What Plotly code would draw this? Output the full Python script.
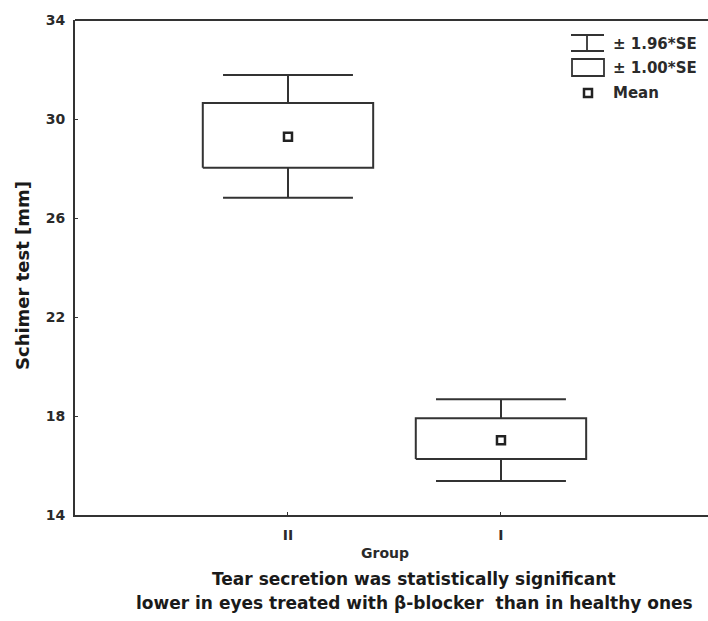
import plotly.graph_objects as go

groups = ["II", "I"]
group_pos = [0, 1]
means = [29.28, 17.02]
box_high = [30.65, 17.91]   # mean + 1.00*SE
box_low = [28.03, 16.26]    # mean - 1.00*SE
whisk_high = [31.78, 18.68] # mean + 1.96*SE
whisk_low = [26.82, 15.37]  # mean - 1.96*SE

y_ticks = [14, 18, 22, 26, 30, 34]

W, H = 708, 621
L, R, T, B = 75, 0, 20, 106
LINE = "#333333"
TXT = "#2a2a2a"
FONT = "DejaVu Sans, Liberation Sans, Arial, sans-serif"

box_half = 0.4
cap_half = 0.305

fig = go.Figure()

# boxes (±1.00*SE)
for x, lo, hi in zip(group_pos, box_low, box_high):
    fig.add_trace(go.Scatter(
        x=[x - box_half, x + box_half, x + box_half, x - box_half, x - box_half],
        y=[lo, lo, hi, hi, lo], mode="lines",
        line=dict(color=LINE, width=2), fill="toself", fillcolor="white",
        hoverinfo="skip", showlegend=False))

# whiskers (±1.96*SE)
for x, lo, hi, bl, bh in zip(group_pos, whisk_low, whisk_high, box_low, box_high):
    fig.add_trace(go.Scatter(
        x=[x - cap_half, x + cap_half, None, x, x, None, x, x, None, x - cap_half, x + cap_half],
        y=[hi, hi, None, hi, bh, None, bl, lo, None, lo, lo], mode="lines",
        line=dict(color=LINE, width=2), hoverinfo="skip", showlegend=False))

# means
fig.add_trace(go.Scatter(
    x=group_pos, y=means, mode="markers",
    marker=dict(symbol="square", size=8, color="white", line=dict(color="#222222", width=2.5)),
    showlegend=False))

def px(xp):
    return (xp - L) / (W - L - R)

def py(yp):
    return (H - B - yp) / (H - T - B)

shapes = []
# top frame line
shapes.append(dict(type="line", xref="paper", yref="paper", x0=0, x1=1, y0=1, y1=1,
                   line=dict(color=LINE, width=2)))
# legend: whisker symbol
for seg in [((571, 35), (604, 35)), ((571, 51), (604, 51)), ((587, 35), (587, 51))]:
    shapes.append(dict(type="line", xref="paper", yref="paper",
                       x0=px(seg[0][0]), y0=py(seg[0][1]), x1=px(seg[1][0]), y1=py(seg[1][1]),
                       line=dict(color=LINE, width=1.8)))
# legend: rectangle
shapes.append(dict(type="rect", xref="paper", yref="paper",
                   x0=px(572), x1=px(604), y0=py(76), y1=py(59),
                   line=dict(color=LINE, width=1.8), fillcolor="white"))
# legend: mean marker
shapes.append(dict(type="rect", xref="paper", yref="paper",
                   x0=px(584), x1=px(592), y0=py(97), y1=py(89),
                   line=dict(color="#222222", width=2.5), fillcolor="white"))

annotations = []
for txt, yp in [("± 1.96*SE", 44), ("± 1.00*SE", 68), ("Mean", 93)]:
    annotations.append(dict(text="<b>" + txt + "</b>", xref="paper", yref="paper",
                            x=px(611), y=py(yp), xanchor="left", yanchor="middle",
                            showarrow=False, font=dict(family=FONT, size=15, color=TXT)))
annotations.append(dict(text="<b>Group</b>", xref="paper", yref="paper",
                        x=px(385), y=py(553), xanchor="center", yanchor="middle",
                        showarrow=False, font=dict(family=FONT, size=14, color=TXT)))
annotations.append(dict(text="<b>Tear secretion was statistically significant</b>",
                        xref="paper", yref="paper", x=px(414), y=py(579),
                        xanchor="center", yanchor="middle", showarrow=False,
                        font=dict(family=FONT, size=17, color="#1a1a1a")))
annotations.append(dict(text="<b>lower in eyes treated with β-blocker  than in healthy ones</b>",
                        xref="paper", yref="paper", x=px(414), y=py(603),
                        xanchor="center", yanchor="middle", showarrow=False,
                        font=dict(family=FONT, size=17, color="#1a1a1a")))
annotations.append(dict(text="<b>Schimer test [mm]</b>", xref="paper", yref="paper",
                        x=px(22), y=py(276), xanchor="center", yanchor="middle",
                        textangle=-90, showarrow=False,
                        font=dict(family=FONT, size=18, color="#1a1a1a")))

fig.update_layout(
    width=W, height=H,
    margin=dict(l=L, r=R, t=T, b=B, pad=0),
    paper_bgcolor="white", plot_bgcolor="white",
    showlegend=False,
    shapes=shapes, annotations=annotations,
    xaxis=dict(range=[-1.0, 1.972], tickvals=group_pos, ticktext=["<b>" + g + "</b>" for g in groups],
               showgrid=False, zeroline=False, showline=True, linecolor=LINE, linewidth=2,
               ticks="inside", ticklen=3, tickcolor=LINE, tickwidth=1, ticklabelstandoff=6,
               tickfont=dict(family=FONT, size=14, color=TXT), fixedrange=True),
    yaxis=dict(range=[14, 34], tickvals=y_ticks, ticktext=["<b>%d</b>" % v for v in y_ticks],
               showgrid=False, zeroline=False, showline=True, linecolor=LINE, linewidth=2,
               ticks="inside", ticklen=3, tickcolor=LINE, tickwidth=1, ticklabelstandoff=5,
               tickfont=dict(family=FONT, size=14, color=TXT), fixedrange=True),
)

fig.write_html("out.html", config={"displayModeBar": False},
               post_script="document.body.style.margin='0';document.body.style.overflow='hidden';")
